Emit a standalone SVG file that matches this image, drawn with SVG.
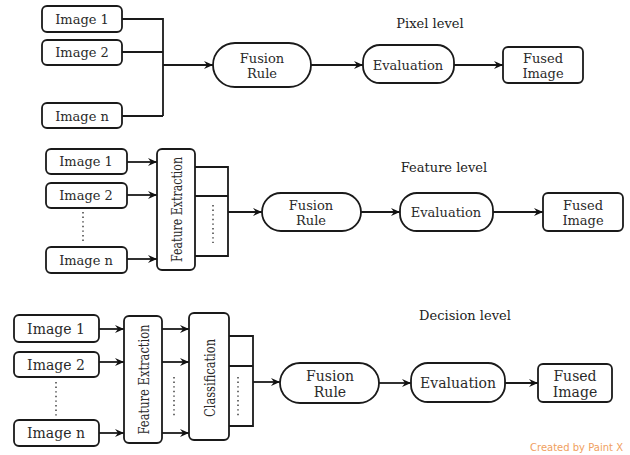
<svg xmlns="http://www.w3.org/2000/svg" width="630" height="455" viewBox="0 0 630 455">
<defs>
<marker id="ah" markerWidth="10" markerHeight="8" refX="9" refY="4" orient="auto" markerUnits="userSpaceOnUse">
<path d="M0,0 L9,4 L0,8 L3,4 Z" fill="#111"/>
</marker>
<style>
.b{fill:#fff;stroke:#1a1a1a;stroke-width:1.8}
.t{font-family:"DejaVu Serif","Liberation Serif",serif;font-size:13px;fill:#2a2a2a;text-anchor:middle}
.v{font-size:15px}
.h{font-family:"DejaVu Serif","Liberation Serif",serif;font-size:13px;fill:#222;text-anchor:middle}
.l{fill:none;stroke:#1a1a1a;stroke-width:1.8}
.a{fill:none;stroke:#1a1a1a;stroke-width:1.8;marker-end:url(#ah)}
.d{fill:none;stroke:#333;stroke-width:1.4;stroke-dasharray:1.4 3.2}
</style>
</defs>
<rect width="630" height="455" fill="#fff"/>

<text class="h" x="430" y="28">Pixel level</text>
<text class="h" x="444" y="172">Feature level</text>
<text class="h" x="465" y="320">Decision level</text>

<g id="connectors">
<!-- pixel -->
<path class="l" d="M122,19 H163 V116 M122,52 H163 M122,116 H163"/>
<path class="a" d="M163,65 H213"/>
<path class="a" d="M311,65 H363"/>
<path class="a" d="M454,65 H503"/>
<!-- feature -->
<path class="a" d="M127,162 H157"/>
<path class="a" d="M127,195 H157"/>
<path class="a" d="M127,259 H157"/>
<path class="d" d="M83,212 V244"/>
<path class="l" d="M195,167 H228 V256 H195 M195,196 H228"/>
<path class="d" d="M213,205 V243"/>
<path class="a" d="M228,212 H262"/>
<path class="a" d="M361,212 H400"/>
<path class="a" d="M493,212 H543"/>
<!-- decision -->
<path class="a" d="M99,329 H124"/>
<path class="a" d="M99,362 H124"/>
<path class="a" d="M99,433 H124"/>
<path class="d" d="M56,382 V417"/>
<path class="a" d="M162,329 H189"/>
<path class="a" d="M162,362 H189"/>
<path class="a" d="M162,433 H189"/>
<path class="d" d="M174,377 V417"/>
<path class="l" d="M229,336 H253 V426 H229 M229,366 H253"/>
<path class="d" d="M238,377 V417"/>
<path class="a" d="M253,382 H280"/>
<path class="a" d="M379,383 H411"/>
<path class="a" d="M505,383 H538"/>
</g>

<!-- Pixel level nodes -->
<g id="p-img1"><rect class="b" x="42" y="6" width="80" height="26" rx="5"/><text class="t" x="82" y="24">Image 1</text></g>
<g id="p-img2"><rect class="b" x="42" y="40" width="80" height="25" rx="5"/><text class="t" x="82" y="57">Image 2</text></g>
<g id="p-imgn"><rect class="b" x="42" y="103" width="80" height="25" rx="5"/><text class="t" x="82" y="121">Image n</text></g>
<g id="p-fusion"><rect class="b" x="213" y="43" width="98" height="44" rx="22"/><text class="t" x="262" y="63">Fusion</text><text class="t" x="262" y="78">Rule</text></g>
<g id="p-eval"><rect class="b" x="363" y="45" width="91" height="38" rx="17"/><text class="t" x="408" y="70">Evaluation</text></g>
<g id="p-fused"><rect class="b" x="503" y="47" width="80" height="36" rx="5"/><text class="t" x="543" y="63">Fused</text><text class="t" x="543" y="78">Image</text></g>

<!-- Feature level nodes -->
<g id="f-img1"><rect class="b" x="46" y="149" width="81" height="25" rx="5"/><text class="t" x="86" y="166">Image 1</text></g>
<g id="f-img2"><rect class="b" x="46" y="183" width="81" height="25" rx="5"/><text class="t" x="86" y="200">Image 2</text></g>
<g id="f-imgn"><rect class="b" x="46" y="247" width="81" height="26" rx="5"/><text class="t" x="86" y="265">Image n</text></g>
<g id="f-fe"><rect class="b" x="157" y="149" width="38" height="121" rx="5"/><text class="t v" transform="translate(182,209.5) rotate(-90)" textLength="105" lengthAdjust="spacingAndGlyphs">Feature Extraction</text></g>
<g id="f-fusion"><rect class="b" x="262" y="193" width="99" height="38" rx="19"/><text class="t" x="311" y="210">Fusion</text><text class="t" x="311" y="225">Rule</text></g>
<g id="f-eval"><rect class="b" x="400" y="193" width="93" height="38" rx="17"/><text class="t" x="446" y="217">Evaluation</text></g>
<g id="f-fused"><rect class="b" x="543" y="193" width="80" height="38" rx="5"/><text class="t" x="583" y="210">Fused</text><text class="t" x="583" y="225">Image</text></g>

<!-- Decision level nodes -->
<g id="d-img1"><rect class="b" x="14" y="315" width="85" height="27" rx="5"/><text class="t" x="56" y="334" style="font-size:14px">Image 1</text></g>
<g id="d-img2"><rect class="b" x="14" y="352" width="85" height="25" rx="5"/><text class="t" x="56" y="370" style="font-size:14px">Image 2</text></g>
<g id="d-imgn"><rect class="b" x="14" y="420" width="85" height="26" rx="5"/><text class="t" x="56" y="438" style="font-size:14px">Image n</text></g>
<g id="d-fe"><rect class="b" x="124" y="316" width="38" height="127" rx="5"/><text class="t v" transform="translate(149,379.5) rotate(-90)" textLength="110" lengthAdjust="spacingAndGlyphs">Feature Extraction</text></g>
<g id="d-cls"><rect class="b" x="189" y="313" width="40" height="127" rx="5"/><text class="t v" transform="translate(215,378) rotate(-90)" textLength="78" lengthAdjust="spacingAndGlyphs">Classification</text></g>
<g id="d-fusion"><rect class="b" x="280" y="363" width="99" height="40" rx="20"/><text class="t" x="330" y="381" style="font-size:14px">Fusion</text><text class="t" x="330" y="397" style="font-size:14px">Rule</text></g>
<g id="d-eval"><rect class="b" x="411" y="363" width="94" height="39" rx="17"/><text class="t" x="458" y="388" style="font-size:14px">Evaluation</text></g>
<g id="d-fused"><rect class="b" x="538" y="364" width="74" height="38" rx="5"/><text class="t" x="575" y="381" style="font-size:14px">Fused</text><text class="t" x="575" y="397" style="font-size:14px">Image</text></g>

<text x="623" y="451" style="font-family:'DejaVu Sans',Verdana,sans-serif;font-size:10px;fill:#f0a060;text-anchor:end">Created by Paint X</text>
</svg>
